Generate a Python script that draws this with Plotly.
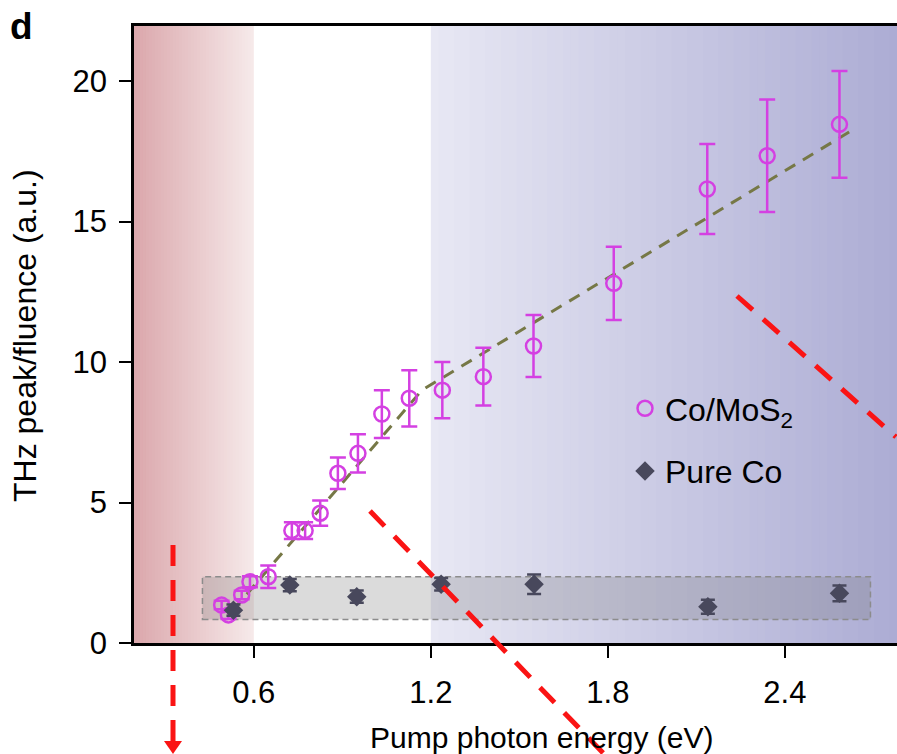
import plotly.graph_objects as go

# ---------------- data ----------------
mos2_x = [0.491, 0.514, 0.559, 0.587, 0.649, 0.729, 0.774, 0.825, 0.885, 0.953,
          1.034, 1.127, 1.239, 1.378, 1.548, 1.820, 2.137, 2.340, 2.585]
mos2_y = [1.35, 1.00, 1.71, 2.18, 2.36, 4.00, 4.00, 4.62, 6.04, 6.75,
          8.15, 8.71, 9.00, 9.48, 10.57, 12.80, 16.16, 17.34, 18.46]
mos2_err = [0.15, 0.15, 0.15, 0.2, 0.4, 0.3, 0.3, 0.45, 0.56, 0.68,
            0.85, 1.0, 1.0, 1.03, 1.1, 1.3, 1.6, 2.0, 1.9]

co_x = [0.531, 0.722, 0.949, 1.235, 1.550, 2.139, 2.585]
co_y = [1.17, 2.06, 1.65, 2.09, 2.09, 1.29, 1.77]
co_err = [0.2, 0.22, 0.22, 0.22, 0.35, 0.25, 0.28]

fit_x = [0.53, 1.17, 2.62]
fit_y = [1.17, 9.0, 18.2]

x_ticks = [0.6, 1.2, 1.8, 2.4]
y_ticks = [0, 5, 10, 15, 20]

x_title = "Pump photon energy (eV)"
y_title = "THz peak/fluence (a.u.)"

# ---------------- geometry helpers ----------------
W, H = 897, 754
ML, MR, MT, MB = 134, 0, 26, 111
PW, PH = W - ML - MR, H - MT - MB


def px(x):
    return (x - ML) / PW


def py(y):
    return (H - MB - y) / PH


FONT = "Liberation Sans, Arial, Helvetica, sans-serif"
MAG = "rgb(212,64,226)"
DARK = "rgb(72,72,92)"

fig = go.Figure()

# fit line
fig.add_trace(go.Scatter(
    x=fit_x, y=fit_y, mode="lines", showlegend=False, hoverinfo="skip",
    line=dict(color="rgb(118,120,70)", width=3, dash="12px,9px")))

fig.add_trace(go.Scatter(
    x=mos2_x, y=mos2_y, mode="markers", name="Co/MoS<sub>2</sub>",
    legendgroup="a",
    marker=dict(symbol="circle-open", size=15, color=MAG, line=dict(width=2.5, color=MAG)),
    error_y=dict(type="data", array=mos2_err, color=MAG, thickness=2.5, width=8)))

fig.add_trace(go.Scatter(
    x=co_x, y=co_y, mode="markers", name="Pure Co",
    legendgroup="b",
    marker=dict(symbol="diamond", size=15, color=DARK),
    error_y=dict(type="data", array=co_err, color=DARK, thickness=2.5, width=7)))

shapes = []
x_lo, x_hi = 0.194, 2.78
# red gradient (left edge -> 0.6 eV)
N = 40
r0 = (219, 167, 172)
r1 = (246, 234, 234)
step = (0.6 - x_lo) / N
for i in range(N):
    a = x_lo + step * i
    b = min(a + step * 1.6, 0.6)
    t = (i + 0.5) / N
    c = tuple(round(r0[k] + (r1[k] - r0[k]) * t) for k in range(3))
    shapes.append(dict(type="rect", xref="x", yref="paper", x0=a, x1=b, y0=0, y1=1,
                       fillcolor=f"rgb{c}", line=dict(width=0), layer="below"))
# blue gradient (1.2 eV -> right edge)
b0 = (232, 232, 244)
b1 = (172, 172, 212)
N2 = 60
step2 = (x_hi - 1.2) / N2
for i in range(N2):
    a = 1.2 + step2 * i
    b = min(a + step2 * 1.6, x_hi)
    t = (i + 0.5) / N2
    c = tuple(round(b0[k] + (b1[k] - b0[k]) * t) for k in range(3))
    shapes.append(dict(type="rect", xref="x", yref="paper", x0=a, x1=b, y0=0, y1=1,
                       fillcolor=f"rgb{c}", line=dict(width=0), layer="below"))
# gray box
shapes.append(dict(type="rect", xref="x", yref="y", x0=0.426, x1=2.69, y0=0.84, y1=2.36,
                   fillcolor="rgba(110,110,110,0.25)",
                   line=dict(color="rgb(140,140,140)", width=1.5, dash="6px,4px"),
                   layer="below"))

# red dashed overlay lines
RED = "rgb(250,20,20)"
red_dash = "21px,14px"
shapes.append(dict(type="line", xref="paper", yref="paper",
                   x0=px(173), y0=py(545), x1=px(173), y1=py(742),
                   line=dict(color=RED, width=5, dash=red_dash)))
shapes.append(dict(type="path", xref="paper", yref="paper",
                   path=f"M {px(164)},{py(741)} L {px(182)},{py(741)} L {px(173)},{py(754)} Z",
                   fillcolor=RED, line=dict(width=0)))
shapes.append(dict(type="line", xref="paper", yref="paper",
                   x0=px(370), y0=py(511), x1=px(606), y1=py(756),
                   line=dict(color=RED, width=5, dash=red_dash)))
shapes.append(dict(type="line", xref="paper", yref="paper",
                   x0=px(737), y0=py(296), x1=px(896), y1=py(437),
                   line=dict(color=RED, width=5, dash=red_dash)))

fig.update_layout(
    width=W, height=H,
    margin=dict(l=ML, r=MR, t=MT, b=MB),
    paper_bgcolor="white", plot_bgcolor="white",
    font=dict(family=FONT, color="black", size=28),
    shapes=shapes,
    showlegend=True,
    legend=dict(x=px(625), y=py(381), xanchor="left", yanchor="top",
                bgcolor="rgba(0,0,0,0)", font=dict(size=32, family=FONT),
                traceorder="grouped", tracegroupgap=18, itemwidth=30),
    annotations=[
        dict(text="<b>d</b>", xref="paper", yref="paper",
             x=px(8), y=py(4), xanchor="left", yanchor="top",
             showarrow=False, font=dict(size=37, family=FONT)),
        dict(text=x_title, xref="paper", yref="paper",
             x=px(542), y=py(737), xanchor="center", yanchor="middle",
             showarrow=False, font=dict(size=30, family=FONT)),
        dict(text=y_title, xref="paper", yref="paper", textangle=-90,
             x=px(25), y=py(336), xanchor="center", yanchor="middle",
             showarrow=False, font=dict(size=32, family=FONT)),
    ],
)

fig.update_xaxes(
    range=[x_lo, x_hi], tickvals=x_ticks, ticktext=[f"{v:.1f}" for v in x_ticks],
    showgrid=False, zeroline=False, showline=True, linecolor="black", linewidth=2.5,
    mirror=True, ticks="outside", ticklen=12, tickwidth=2, tickcolor="black",
    tickfont=dict(size=31), ticklabelstandoff=8)
fig.update_yaxes(
    range=[0, 21.96], tickvals=y_ticks, ticktext=[str(v) for v in y_ticks],
    showgrid=False, zeroline=False, showline=True, linecolor="black", linewidth=2.5,
    ticks="outside", ticklen=12, tickwidth=2, tickcolor="black",
    tickfont=dict(size=31), ticklabelstandoff=6)

fig.write_html("out.html")
